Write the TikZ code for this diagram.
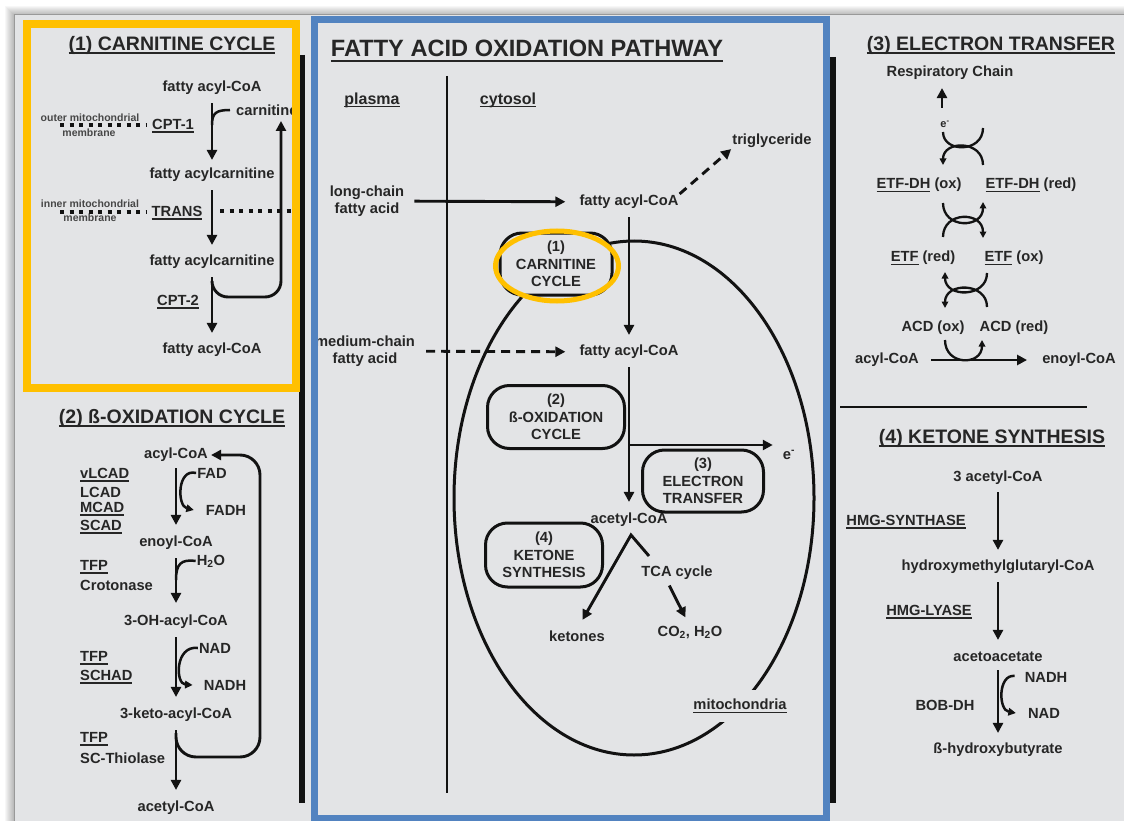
\documentclass[tikz,border=0pt]{standalone}
\usepackage{fontspec}
\setmainfont{Liberation Sans}
\usetikzlibrary{arrows.meta,calc}
\definecolor{bg}{RGB}{227,228,230}
\definecolor{txt}{RGB}{38,38,38}
\definecolor{ink}{RGB}{18,18,18}
\definecolor{yel}{RGB}{255,192,0}
\definecolor{blu}{RGB}{82,131,192}
\newcommand{\myul}[1]{\begingroup\setbox0\hbox{#1}\leavevmode\rlap{\rule[-0.2em]{\wd0}{0.08em}}\box0\endgroup}
\begin{document}
\begin{tikzpicture}[x=1pt,y=-1pt,
  lbl/.style={font=\bfseries\fontsize{14.7}{17.5}\selectfont, text=txt, inner sep=1pt},
  lbls/.style={font=\bfseries\fontsize{16}{18}\selectfont, text=txt, inner sep=1pt},
  ttl/.style={font=\bfseries\fontsize{19.5}{22}\selectfont, text=txt, inner sep=1pt},
  sml/.style={font=\bfseries\fontsize{10.5}{11}\selectfont, text=txt!85, inner sep=0pt},
  arr/.style={draw=ink, line width=2.9pt, -{Triangle[length=10pt,width=10pt]}},
  ln/.style={draw=ink, line width=2.5pt},
  carr/.style={draw=ink, line width=2.5pt, -{Triangle[length=7.5pt,width=7.5pt]}},
  harc/.style={draw=ink, line width=2.3pt},
  htip/.style={-{Triangle[length=6.5pt,width=6.5pt]}},
  stagebox/.style={draw=ink, line width=3pt, rounded corners=22pt, fill=bg, lbl, align=center},
  memdot/.style={draw=ink, line width=4pt, dash pattern=on 4pt off 5.5pt},
  dsh/.style={dash pattern=on 9pt off 6pt}
]
\useasboundingbox (0,0) rectangle (1124,821);
\fill[white] (0,0) rectangle (1124,821);
\foreach \i in {1,...,9} \fill[black, opacity=0.03] (14-\i,15-\i) rectangle (1124,821);
\fill[bg] (14,15) rectangle (1124,821);
\draw[black!40, line width=1pt] (14,821) -- (14,15) -- (1124,15);

% thick separators
\draw[ink, line width=5.5pt] (302,55) -- (302,803);
\draw[ink, line width=5.5pt] (833,57) -- (833,803);
\draw[ink, line width=2.2pt] (840,407) -- (1087,407);

% ================= Panel 1 =================
\node[ttl] (t1) at (172,45) {\myul{(1) CARNITINE CYCLE}};
\node[lbl] (p1a) at (212,88) {fatty acyl-CoA};
\node[lbl,anchor=west] (carn) at (235,110) {carnitine};
\node[lbl] (cpt1) at (173,126) {\myul{CPT-1}};
\node[lbl] (p1b) at (212,175) {fatty acylcarnitine};
\node[lbl] (trans) at (177,213) {\myul{TRANS}};
\node[lbl] (p1c) at (212,262) {fatty acylcarnitine};
\node[lbl] (cpt2) at (178,302) {\myul{CPT-2}};
\node[lbl] (p1d) at (212,350) {fatty acyl-CoA};
\node[sml] (om1) at (90,118) {outer mitochondrial};
\node[sml] (om2) at (89,133) {membrane};
\node[sml] (im1) at (90,204) {inner mitochondrial};
\node[sml] (im2) at (90,218) {membrane};
\coordinate (od1) at (60,125); \coordinate (od2) at (146,125);
\coordinate (id1) at (60,212); \coordinate (id2) at (146,212);
\coordinate (id3) at (220,211); \coordinate (id4) at (296,211);
\draw[memdot] (od1) -- (od2);
\draw[memdot] (id1) -- (id2);
\draw[memdot] (id3) -- (id4);
\draw[arr, shorten <=7pt, shorten >=7pt] (p1a) -- (p1b);
\draw[arr, shorten <=7pt, shorten >=9pt] (p1b) -- (p1c);
\draw[arr, shorten <=7pt, shorten >=9pt] (p1c) -- (p1d);
\coordinate (j1) at (212,125);
\draw[ln, shorten <=5pt] (carn.west) .. controls (216,110) and (212,113) .. (j1);
\coordinate (j2) at (212,283);
\coordinate (carnin) at (281,121);
\draw[arr, rounded corners=16pt] (j2) |- (281,297) -- (carnin);

% ================= Panel 2 =================
\node[ttl] (t2) at (172,418) {\myul{(2) ß-OXIDATION CYCLE}};
\node[lbl] (q1) at (176,455) {acyl-CoA};
\node[lbl] (q2) at (176,543) {enoyl-CoA};
\node[lbl] (q3) at (176,622) {3-OH-acyl-CoA};
\node[lbl] (q4) at (176,715) {3-keto-acyl-CoA};
\node[lbl] (q5) at (176,808) {acetyl-CoA};
\draw[arr, shorten <=5pt, shorten >=10pt] (q1) -- (q2);
\draw[arr, shorten <=7pt, shorten >=11pt] (q2) -- (q3);
\draw[arr, shorten <=7pt, shorten >=10pt] (q3) -- (q4);
\draw[arr, shorten <=7pt, shorten >=10pt] (q4) -- (q5);
\node[lbl,anchor=west] (e1) at (79,475) {\myul{vLCAD}};
\node[lbl,anchor=west] (e2) at (79,492) {LCAD};
\node[lbl,anchor=west] (e3) at (79,509) {\myul{MCAD}};
\node[lbl,anchor=west] (e4) at (79,527) {\myul{SCAD}};
\node[lbl,anchor=west] (e5) at (79,567) {\myul{TFP}};
\node[lbl,anchor=west] (e6) at (79,585) {Crotonase};
\node[lbl,anchor=west] (e7) at (79,658) {\myul{TFP}};
\node[lbl,anchor=west] (e8) at (79,677) {\myul{SCHAD}};
\node[lbl,anchor=west] (e9) at (79,739) {\myul{TFP}};
\node[lbl,anchor=west] (e10) at (79,758) {SC-Thiolase};
\node[lbl] (fad) at (212,473) {FAD};
\node[lbl] (fadh) at (226,510) {FADH};
\draw[carr] (fad.west) .. controls (177,468) and (177,506) .. ([xshift=-11pt]fadh.west);
\node[lbl] (h2o) at (211,561) {H\textsubscript{2}O};
\coordinate (j3) at (176,580);
\draw[ln] (h2o.west) .. controls (181,559) and (176,564) .. (j3);
\node[lbl] (nad) at (215,648) {NAD};
\node[lbl] (nadh) at (225,685) {NADH};
\draw[carr] (nad.west) .. controls (175,645) and (175,684) .. ([xshift=-10pt]nadh.west);
\coordinate (j4) at (176,733);
\draw[arr, rounded corners=20pt, shorten >=2pt] (j4) |- (260,757) -- (260,455) -- (q1.east);

% ================= Center panel =================
\node[font=\bfseries\fontsize{23.6}{26}\selectfont, text=txt, inner sep=1pt] (t0) at (527,51) {\myul{FATTY ACID OXIDATION PATHWAY}};
\node[lbls] (plasma) at (372,100) {\myul{plasma}};
\node[lbls] (cyto) at (508,100) {\myul{cytosol}};
\coordinate (mt) at (447,76); \coordinate (mb) at (447,793);
\draw[ink, line width=2.2pt] (mt) -- (mb);
\draw[ink, line width=3pt] (634,498) ellipse [x radius=180, y radius=257];
\node[lbl, align=center] (lcfa) at (367,201) {long-chain\\fatty acid};
\node[lbl] (f3) at (629,202) {fatty acyl-CoA};
\node[lbl] (trig) at (772,141) {triglyceride};
\draw[arr, shorten <=9pt, shorten >=13pt] (lcfa) -- (f3);
\draw[arr, dsh] (f3.north east) -- (trig.south west);
\node[lbl] (f4) at (629,352) {fatty acyl-CoA};
\draw[arr, shorten <=7pt, shorten >=9pt] (f3) -- (f4);
\node[lbl, align=center] (mcfa) at (365,351) {medium-chain\\fatty acid};
\draw[arr, dsh, shorten <=10pt, shorten >=13pt] (mcfa) -- (f4);
\node[lbl] (acoa) at (629,520) {acetyl-CoA};
\draw[arr, shorten <=7pt, shorten >=10pt] (f4) -- (acoa);
\node[lbl] (em1) at (789,455) {e\textsuperscript{-}};
\coordinate (br) at (629,445);
\draw[arr, shorten >=9pt] (br) -- (br -| em1.west);
\node[stagebox, minimum width=112pt, minimum height=62pt] (b1) at (556,264) {(1)\\CARNITINE\\CYCLE};
\node[stagebox, minimum width=137pt, minimum height=63pt] (b2) at (556,417) {(2)\\ß-OXIDATION\\CYCLE};
\node[stagebox, minimum width=121pt, minimum height=62pt] (b3) at (703,481) {(3)\\ELECTRON\\TRANSFER};
\node[stagebox, minimum width=117pt, minimum height=64pt] (b4) at (544,555) {(4)\\KETONE\\SYNTHESIS};
\coordinate (apex) at (631,535);
\coordinate (tcaarm) at (649,556);
\node[lbl] (ket) at (577,636) {ketones};
\node[lbl] (tca) at (677,573) {TCA cycle};
\node[lbl] (co2) at (690,632) {CO\textsubscript{2}, H\textsubscript{2}O};
\draw[arr, shorten >=11pt] (tcaarm) -- (apex) -- (ket.north);
\draw[arr, shorten <=5pt, shorten >=8pt] ([xshift=-10pt]tca.south) -- ([xshift=-1pt]co2.north);
\node[lbl, fill=bg, inner xsep=2pt, inner ysep=9pt] (mito) at (740,706) {\myul{mitochondria}};

% ================= Right panel: electron transfer =================
\node[ttl] (t3) at (991,45) {\myul{(3) ELECTRON TRANSFER}};
\node[lbl] (resp) at (950,73) {Respiratory Chain};
\node[font=\bfseries\fontsize{11}{12}\selectfont, text=txt, inner sep=0pt] (em2) at (945,124) {e\textsuperscript{-}};
\coordinate (rc) at (942,108);
\draw[arr, line width=2.6pt, shorten >=7pt] (rc) -- (rc |- resp.south);
\node[lbl] (dhox) at (919,185) {\myul{ETF-DH} (ox)};
\node[lbl] (dhred) at (1031,185) {\myul{ETF-DH} (red)};
\node[lbl] (etfred) at (923,258) {\myul{ETF} (red)};
\node[lbl] (etfox) at (1014,258) {\myul{ETF} (ox)};
\node[lbl] (acdox) at (933,328) {ACD (ox)};
\node[lbl] (acdred) at (1014,328) {ACD (red)};
\node[lbl] (acyl3) at (887,360) {acyl-CoA};
\node[lbl] (enoyl3) at (1079,360) {enoyl-CoA};
\draw[arr, shorten <=11pt, shorten >=14pt] (acyl3) -- (enoyl3);
% cross 1
\draw[harc] (983,128) .. controls (983,153) and (943,153) .. (943,132);
\draw[harc, htip] (983,165) .. controls (983,140) and (943,140) .. (943,165);
% cross 2
\draw[harc, htip] (943,203) .. controls (943,229) and (983,229) .. (983,202);
\draw[harc, htip] (943,237) .. controls (943,211) and (983,211) .. (983,238);
% cross 3
\draw[harc, htip] (987,273) .. controls (987,298) and (945,298) .. (945,272);
\draw[harc, htip] (987,307) .. controls (987,282) and (945,282) .. (945,308);
% ACD U
\draw[harc, htip] (945,340) .. controls (945,366) and (982,366) .. (982,340);

% ================= Right panel: ketone synthesis =================
\node[ttl] (t4) at (992,438) {\myul{(4) KETONE SYNTHESIS}};
\node[lbl] (k1) at (998,478) {3 acetyl-CoA};
\node[lbl] (k2) at (998,567) {hydroxymethylglutaryl-CoA};
\node[lbl] (k3) at (998,657) {acetoacetate};
\node[lbl] (k4) at (998,750) {ß-hydroxybutyrate};
\draw[arr, shorten <=6pt, shorten >=9pt] (k1) -- (k2);
\draw[arr, shorten <=7pt, shorten >=11pt] (k2) -- (k3);
\draw[arr, shorten <=7pt, shorten >=9pt] (k3) -- (k4);
\node[lbl] (hmgs) at (906,522) {\myul{HMG-SYNTHASE}};
\node[lbl] (hmgl) at (929,612) {\myul{HMG-LYASE}};
\node[lbl] (bob) at (945,705) {BOB-DH};
\node[lbl] (nadh2) at (1046,677) {NADH};
\node[lbl] (nad2) at (1044,713) {NAD};
\draw[carr, shorten <=9pt] (nadh2.west) .. controls (998,674) and (998,710) .. ([xshift=-11pt]nad2.west);

% ================= highlights =================
\draw[yel, line width=5pt] (557,266) ellipse [x radius=61.5, y radius=35];
\draw[yel, line width=8pt] (27,24) rectangle (296,388);
\draw[blu, line width=7pt] (314,20) rectangle (826,818);
\end{tikzpicture}
\end{document}
